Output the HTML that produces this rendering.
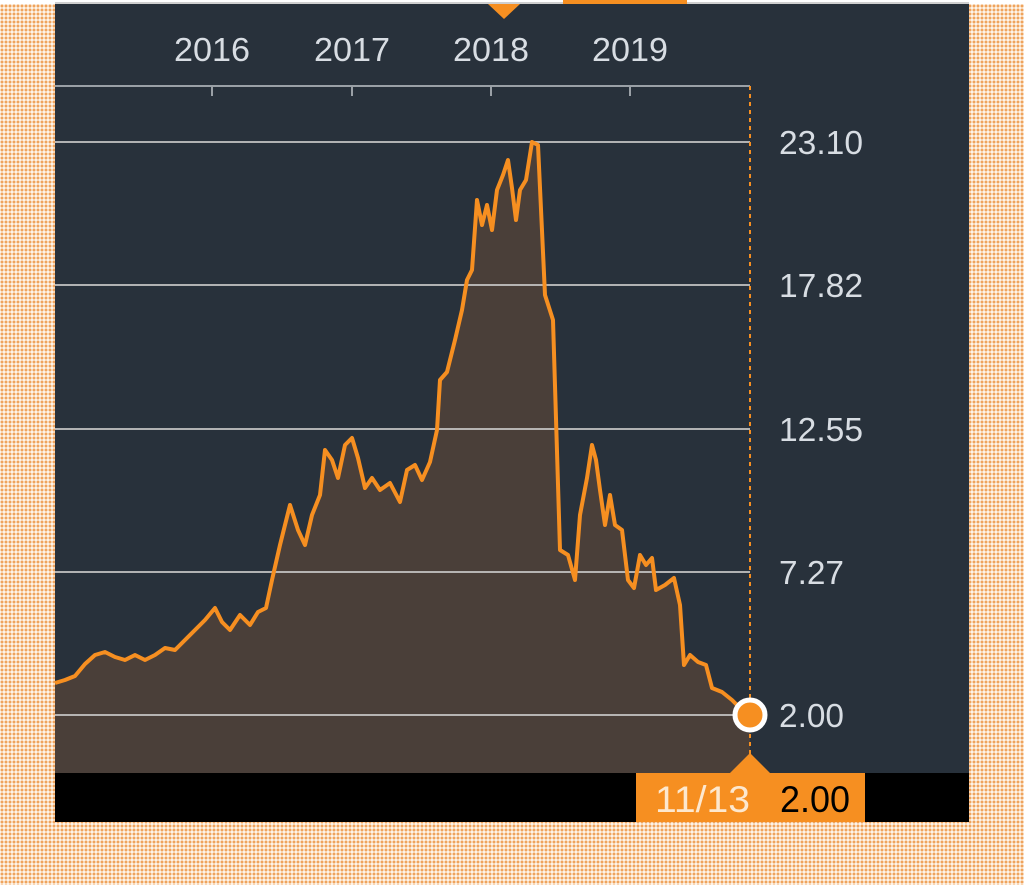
<!DOCTYPE html>
<html><head><meta charset="utf-8"><style>
html,body{margin:0;padding:0}
body{width:1024px;height:885px;overflow:hidden;background-color:#fdf3e8;background-image:radial-gradient(circle,#efa35c 1.3px,transparent 1.6px);background-size:4px 4px}
svg{position:absolute;left:0;top:0}
</style></head><body>
<svg width="1024" height="885" xmlns="http://www.w3.org/2000/svg" font-family="Liberation Sans, sans-serif">
<rect x="0" y="0" width="1024" height="4" fill="#ffffff"/>
<rect x="55" y="2" width="914" height="2" fill="#cfcfcf"/>
<rect x="563" y="0" width="124" height="4" fill="#f68f21"/>
<rect x="55" y="4" width="914" height="770" fill="#28313b"/>
<rect x="55" y="773" width="914" height="49" fill="#000"/>
<polygon points="488,4 520,4 504,19" fill="#f68f21"/>
<g fill="#d8dde3" font-size="33" text-anchor="middle" textLength="76">
<text x="212" y="61" textLength="76" lengthAdjust="spacingAndGlyphs">2016</text><text x="352" y="61" textLength="76" lengthAdjust="spacingAndGlyphs">2017</text><text x="491" y="61" textLength="76" lengthAdjust="spacingAndGlyphs">2018</text><text x="630" y="61" textLength="76" lengthAdjust="spacingAndGlyphs">2019</text>
</g>
<line x1="55" y1="86" x2="750" y2="86" stroke="#9aa0a6" stroke-width="2"/>
<g stroke="#9aa0a6" stroke-width="2"><line x1="212" y1="86" x2="212" y2="96"/><line x1="352" y1="86" x2="352" y2="96"/><line x1="491" y1="86" x2="491" y2="96"/><line x1="630" y1="86" x2="630" y2="96"/></g>
<path d="M55,683 L65,680 75,676 85,664 95,655 105,652 115,657 125,660 135,655 145,660 155,655 165,648 175,650 185,640 195,630 205,620 215,608 222,622 230,630 240,615 250,625 258,612 266,608 272,580 280,545 290,505 298,530 305,545 312,515 320,495 325,450 332,460 338,478 345,445 352,438 358,458 365,488 372,478 380,490 390,483 400,502 407,470 415,465 422,480 430,462 437,430 440,380 447,372 455,340 462,310 467,280 472,270 477,200 482,225 487,205 492,230 497,190 503,175 508,160 512,188 516,220 520,190 526,180 532,142 538,145 545,295 553,320 560,550 568,555 575,580 580,515 587,478 592,445 596,460 600,490 605,525 610,495 615,525 622,530 628,580 634,588 640,555 646,565 652,558 656,590 665,585 674,578 680,605 684,665 690,655 698,662 706,665 712,688 722,692 732,700 740,708 750,715 L750,773 L55,773 Z" fill="#4a3f39"/>
<g stroke="#c9c9c9" stroke-width="2" opacity="0.85">
<line x1="55" y1="142" x2="750" y2="142"/><line x1="55" y1="285" x2="750" y2="285"/><line x1="55" y1="429" x2="750" y2="429"/><line x1="55" y1="572" x2="750" y2="572"/><line x1="55" y1="715" x2="750" y2="715"/>
</g>
<line x1="750" y1="86" x2="750" y2="773" stroke="#f68f21" stroke-width="2" stroke-dasharray="4,4"/>
<path d="M55,683 L65,680 75,676 85,664 95,655 105,652 115,657 125,660 135,655 145,660 155,655 165,648 175,650 185,640 195,630 205,620 215,608 222,622 230,630 240,615 250,625 258,612 266,608 272,580 280,545 290,505 298,530 305,545 312,515 320,495 325,450 332,460 338,478 345,445 352,438 358,458 365,488 372,478 380,490 390,483 400,502 407,470 415,465 422,480 430,462 437,430 440,380 447,372 455,340 462,310 467,280 472,270 477,200 482,225 487,205 492,230 497,190 503,175 508,160 512,188 516,220 520,190 526,180 532,142 538,145 545,295 553,320 560,550 568,555 575,580 580,515 587,478 592,445 596,460 600,490 605,525 610,495 615,525 622,530 628,580 634,588 640,555 646,565 652,558 656,590 665,585 674,578 680,605 684,665 690,655 698,662 706,665 712,688 722,692 732,700 740,708 750,715" fill="none" stroke="#f68f21" stroke-width="4" stroke-linejoin="round"/>
<circle cx="750" cy="715" r="15" fill="#f68f21" stroke="#fff" stroke-width="5"/>
<g fill="#d8dde3" font-size="33">
<text x="779" y="154" textLength="84" lengthAdjust="spacingAndGlyphs">23.10</text><text x="779" y="297" textLength="84" lengthAdjust="spacingAndGlyphs">17.82</text><text x="779" y="441" textLength="84" lengthAdjust="spacingAndGlyphs">12.55</text><text x="779" y="584" textLength="65" lengthAdjust="spacingAndGlyphs">7.27</text><text x="779" y="727" textLength="65" lengthAdjust="spacingAndGlyphs">2.00</text>
</g>
<polygon points="730,773 750,753 770,773" fill="#f68f21"/>
<rect x="636" y="773" width="229" height="49" fill="#f68f21"/>
<text x="655" y="812" font-size="37" fill="#fde8cf" textLength="95" lengthAdjust="spacingAndGlyphs">11/13</text>
<text x="780" y="812" font-size="37" fill="#000" textLength="70" lengthAdjust="spacingAndGlyphs">2.00</text>
</svg>
</body></html>
